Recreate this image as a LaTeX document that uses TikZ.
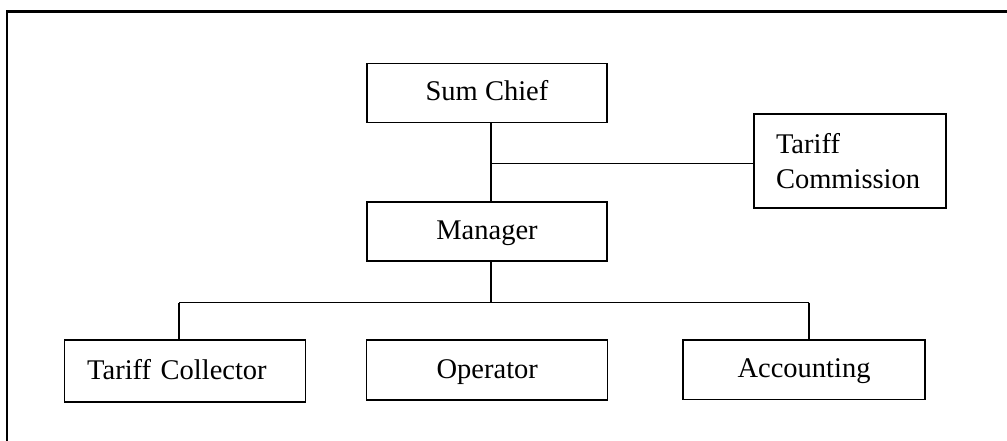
\documentclass[tikz,border=0pt]{standalone}
\usepackage{fontspec}
\setmainfont{Liberation Serif}
\begin{document}
\begin{tikzpicture}[x=1pt,y=-1pt,
  orgbox/.style={draw=black,line width=1.3pt,inner sep=0pt,
    font=\fontsize{28.5}{35}\selectfont,text height=21pt,text depth=5pt},
  link/.style={draw=black,line width=1.2pt},
  frame/.style={draw=black,line width=2.2pt}]
\useasboundingbox (0,0) rectangle (1007,441);

% outer frame (top and left edges)
\draw[frame] (7,441) -- (7,11.5) -- (1007,11.5);

% boxes
\node[orgbox,minimum width=240pt,minimum height=59pt] (chief) at (487,93) {Sum Chief};
\node[orgbox,minimum width=240pt,minimum height=59pt] (manager) at (487,231.4) {Manager};
\node[orgbox,minimum width=192pt,minimum height=94pt,text width=148pt,align=left,
  inner xsep=22pt,text height=,text depth=] (tariffc) at (850,161) {Tariff\\Commission};
\node[orgbox,minimum width=241pt,minimum height=62pt,text width=195pt,align=left,
  inner xsep=23pt] (collector) at (184.7,371) {Tariff Collector};
\node[orgbox,minimum width=241pt,minimum height=60pt] (operator) at (487.3,370) {Operator};
\node[orgbox,minimum width=242pt,minimum height=59.5pt] (accounting) at (804,369.7) {Accounting};

% junctions
\coordinate (j1) at (491,163.3);
\coordinate (j2) at (491,302.7);
\coordinate (b1) at (179,302.7);
\coordinate (b2) at (809,302.7);

% connectors
\draw[link] (chief.south -| j1) -- (manager.north -| j1);
\draw[link] (j1) -- (tariffc.west |- j1);
\draw[link] (manager.south -| j2) -- (j2);
\draw[link] (b1) -- (b2);
\draw[link] (b1) -- (collector.north -| b1);
\draw[link] (b2) -- (accounting.north -| b2);
\end{tikzpicture}
\end{document}
